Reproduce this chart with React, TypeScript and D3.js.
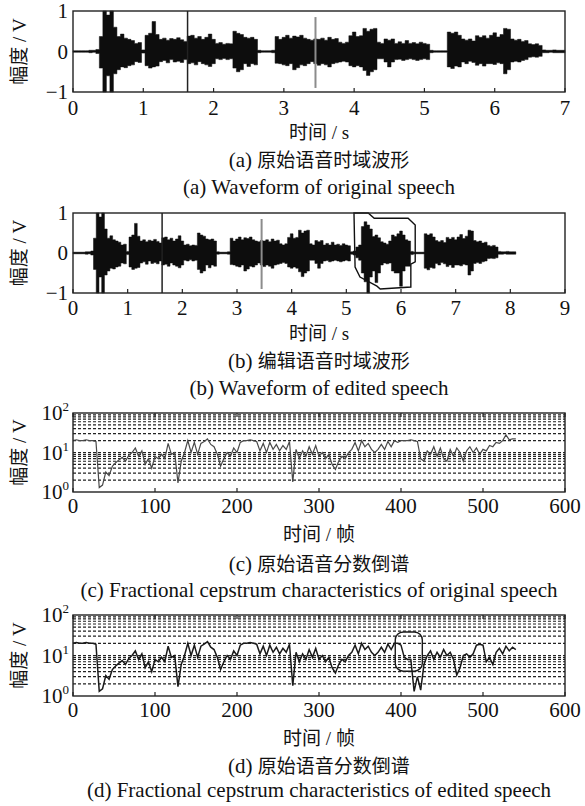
import React from 'react';
import * as d3 from 'd3';

// ---------------- data ----------------
// waveform envelope of the original speech, sampled every WAVE_STEP seconds (0 .. 7 s)
const WAVE_STEP = 0.05;
const origUpper = [
  0.02, 0.02, 0.02, 0.02, 0.02, 0.03, 0.03, 0.05,
  0.37, 1, 0.9, 1, 0.6, 0.37, 0.43, 0.33, 0.3, 0.27, 0.2, 0.22,
  0.04, 0.4, 0.45, 0.74, 0.42, 0.3, 0.33, 0.28, 0.32, 0.3, 0.34, 0.29, 0.25,
  0.38, 0.4, 0.33, 0.37, 0.3, 0.35, 0.43, 0.3, 0.2, 0.22, 0.18, 0.2, 0.19,
  0.5, 0.45, 0.42, 0.35, 0.33, 0.35, 0.3,
  0.03, 0.02, 0.02, 0.02, 0.03,
  0.37, 0.3, 0.35, 0.4, 0.33, 0.38, 0.36, 0.4, 0.33, 0.3, 0.28,
  0.31, 0.3, 0.33, 0.28, 0.35, 0.3, 0.32, 0.23, 0.2, 0.23,
  0.39, 0.48, 0.37, 0.39, 0.57, 0.5, 0.55, 0.57, 0.23, 0.2,
  0.31, 0.28, 0.31, 0.2, 0.24, 0.2, 0.27, 0.2, 0.22, 0.19, 0.23, 0.2, 0.18,
  0.03, 0.02, 0.02, 0.02, 0.02,
  0.48, 0.45, 0.48, 0.4, 0.31, 0.28, 0.31, 0.26, 0.39, 0.35, 0.39, 0.33, 0.4, 0.46, 0.36, 0.42, 0.57, 0.55,
  0.31, 0.28, 0.3, 0.25, 0.27, 0.19, 0.17, 0.19, 0.15,
  0.04, 0.03, 0.03, 0.04, 0.03, 0.03, 0.03,
];
const origLower = [
  0.02, 0.02, 0.02, 0.02, 0.02, 0.03, 0.02, 0.05,
  0.41, 1, 0.6, 1, 0.55, 0.45, 0.38, 0.4, 0.35, 0.33, 0.25, 0.27,
  0.04, 0.35, 0.41, 0.38, 0.36, 0.25, 0.22, 0.28, 0.2, 0.26, 0.24, 0.27, 0.2,
  0.3, 0.28, 0.33, 0.25, 0.3, 0.33, 0.37, 0.3, 0.18, 0.2, 0.17, 0.2, 0.18,
  0.41, 0.5, 0.45, 0.3, 0.37, 0.3, 0.33,
  0.03, 0.02, 0.02, 0.02, 0.03,
  0.29, 0.3, 0.33, 0.35, 0.3, 0.45, 0.4, 0.33, 0.35, 0.3, 0.25,
  0.3, 0.34, 0.3, 0.33, 0.38, 0.3, 0.28, 0.26, 0.24, 0.26,
  0.35, 0.38, 0.35, 0.38, 0.47, 0.59, 0.5, 0.45, 0.18, 0.18,
  0.26, 0.38, 0.26, 0.2, 0.19, 0.22, 0.2, 0.18, 0.2, 0.22, 0.2, 0.18, 0.2,
  0.03, 0.02, 0.02, 0.02, 0.02,
  0.38, 0.42, 0.36, 0.38, 0.26, 0.3, 0.24, 0.27, 0.34, 0.3, 0.36, 0.3, 0.3, 0.32, 0.28, 0.3, 0.55, 0.45,
  0.26, 0.24, 0.26, 0.22, 0.2, 0.14, 0.13, 0.14, 0.12,
  0.03, 0.03, 0.02, 0.03, 0.03, 0.03, 0.03,
];
// segment inserted into the edited speech, starting at insertStart seconds
const insertStart = 5.15;
const insertUpper = [0.05, 0.15, 0.2, 0.66, 0.78, 0.7, 0.6, 0.41, 0.45, 0.38, 0.28, 0.25, 0.22, 0.3, 0.45, 0.41, 0.48, 0.55, 0.45, 0.33, 0.3, 0.04];
const insertLower = [0.05, 0.12, 0.18, 0.5, 0.72, 1, 0.6, 0.45, 0.74, 0.5, 0.3, 0.25, 0.27, 0.25, 0.45, 0.5, 0.5, 0.83, 0.45, 0.33, 0.33, 0.04];
// isolated vertical clicks in the waveform
const spikeTimes = [1.63, 3.45];
const spikeHigh = [1, 0.85];
const spikeLow = [-1, -0.9];
const spikeKind = ['dark', 'gray'];
// hand-drawn outline around the edited region (time s, amplitude V)
const editPolygon: [number, number][] = [
  [5.14, 1.0], [5.4, 1.0], [5.51, 0.87], [6.13, 0.87], [6.26, 0.7], [6.26, -0.22], [6.18, -0.28],
  [6.18, -0.85], [5.62, -0.9], [5.56, -0.83], [5.25, -0.6], [5.16, -0.35],
];
const timeTicksA = [0, 1, 2, 3, 4, 5, 6, 7];
const timeTicksB = [0, 1, 2, 3, 4, 5, 6, 7, 8, 9];
const ampTicks = [1, 0, -1];
const ampTickLabels = ['1', '0', '\u22121'];

// fractional cepstrum, one value every FRAME_STEP frames
const FRAME_STEP = 4;
const cepHead = [
  20, 21, 20, 20, 21, 20, 20, 19, 1.3, 1.5, 3.2, 2.6, 4.5, 5.5, 6.5, 7.5, 6, 8.5, 10, 13,
  8, 11, 5, 7, 4, 8, 7, 9, 7, 17, 9, 10, 1.7, 6, 10, 20, 10, 18, 9, 17,
  19, 22, 16, 14, 9, 4.5, 7, 10, 8, 13, 10, 18, 20, 20, 21, 20, 19, 11, 17, 10,
  18, 12, 16, 11, 15, 12, 19, 1.8, 12, 7, 11, 8, 14, 9, 15, 8, 10, 7, 9, 5,
  3.7, 6, 8, 7, 10, 12, 18, 11, 20, 14, 17, 12, 10, 12, 16, 12, 19, 14, 20,
];
const cepTailOrig = [
  18, 20, 20, 20, 21, 20, 19, 7, 6, 11, 9, 14, 8, 13, 7, 6, 12, 8, 13, 10,
  6, 11, 14, 10, 13, 9, 12, 11, 15, 14, 18, 17, 20, 28, 21, 22, 22,
];
const cepTailEdit = [
  20, 18, 9, 8, 8, 1.3, 3, 1.4, 6, 10, 13, 8, 12, 9, 14, 10, 12, 8, 3.3, 5,
  10, 11, 9, 11, 18, 19, 18, 7, 9, 6, 12, 15, 11, 17, 13, 16, 14,
];
const frameTicks = [0, 100, 200, 300, 400, 500, 600];
const logTicks = [1, 10, 100];
const logTickExp = ['0', '1', '2'];
// rounded marker around the edited frames in (d): frames and amplitude range
const editMarkFrames = [393, 426];
const editMarkValues = [4.1, 38];

const yLabel = '幅度 / V';
const xLabelTime = '时间 / s';
const xLabelFrame = '时间 / 帧';
const captionTags = ['(a) ', '(b) ', '(c) ', '(d) '];
const captionsZh = ['原始语音时域波形', '编辑语音时域波形', '原始语音分数倒谱', '原始语音分数倒谱'];
const captionsEn = [
  '(a) Waveform of original speech',
  '(b) Waveform of edited speech',
  '(c) Fractional cepstrum characteristics of original speech',
  '(d) Fractional cepstrum characteristics of edited speech',
];

// ---------------- layout ----------------
const W = 585;
const H = 806;
const PX0 = 73;
const PX1 = 565;
const FONT = '"Liberation Serif", "Times New Roman", "Noto Sans CJK SC", serif';
const FS = 21;
const FS_ZH = 19;

type WP = { t: number; u: number; l: number };

const origWave: WP[] = origUpper.map((u, i) => ({ t: i * WAVE_STEP, u, l: origLower[i] }));
const splitIdx = Math.round(insertStart / WAVE_STEP);
const insertLen = insertUpper.length * WAVE_STEP;
const editWave: WP[] = [
  ...origWave.slice(0, splitIdx),
  ...insertUpper.map((u, j) => ({ t: insertStart + j * WAVE_STEP, u, l: insertLower[j] })),
  ...origWave.slice(splitIdx).map((p) => ({ ...p, t: p.t + insertLen })),
];

const cepOrig = [...cepHead, ...cepTailOrig].map((v, i) => ({ f: i * FRAME_STEP, v }));
const cepEdit = [...cepHead, ...cepTailEdit].map((v, i) => ({ f: i * FRAME_STEP, v }));

type Layout = { top: number; bottom: number; tickBase: number; xlabBase: number; zhBase: number; enBase: number };

const layouts: Layout[] = [
  { top: 11, bottom: 92, tickBase: 115, xlabBase: 139, zhBase: 167, enBase: 194 },
  { top: 213, bottom: 293, tickBase: 315, xlabBase: 340, zhBase: 368, enBase: 395 },
  { top: 413, bottom: 492, tickBase: 513, xlabBase: 541, zhBase: 571, enBase: 597 },
  { top: 615, bottom: 696, tickBase: 717, xlabBase: 745, zhBase: 773, enBase: 797 },
];

function Texts({ L, idx, xlab }: { L: Layout; idx: number; xlab: string }) {
  const cx = (PX0 + PX1) / 2;
  return (
    <g fontFamily={FONT} fontSize={FS} fill="#111">
      <text transform={`translate(19,${(L.top + L.bottom) / 2}) rotate(-90)`} textAnchor="middle" dominantBaseline="central" fontSize={FS_ZH}>
        {yLabel}
      </text>
      <text x={cx} y={L.xlabBase} textAnchor="middle" fontSize={FS_ZH}>{xlab}</text>
      <text x={cx} y={L.zhBase} textAnchor="middle">
        <tspan>{captionTags[idx]}</tspan>
        <tspan fontSize={FS_ZH}>{captionsZh[idx]}</tspan>
      </text>
      <text x={cx} y={L.enBase} textAnchor="middle">{captionsEn[idx]}</text>
    </g>
  );
}

function WavePanel({ idx, data, xMax, ticks, polygon }: { idx: number; data: WP[]; xMax: number; ticks: number[]; polygon?: [number, number][] }) {
  const L = layouts[idx];
  const x = d3.scaleLinear().domain([0, xMax]).range([PX0, PX1]);
  const y = d3.scaleLinear().domain([-1, 1]).range([L.bottom, L.top]);
  const area = d3.area<WP>().x((d) => x(d.t)).y0((d) => y(-d.l)).y1((d) => y(d.u)).curve(d3.curveStep);
  const tEnd = data[data.length - 1].t;
  const polyLine = polygon ? d3.line<[number, number]>().x((d) => x(d[0])).y((d) => y(d[1]))(polygon) + 'Z' : null;
  return (
    <g>
      <line x1={x(0)} x2={x(tEnd)} y1={y(0)} y2={y(0)} stroke="#222" strokeWidth={1.2} />
      <path d={area(data) || ''} fill="#0d0d0d" stroke="#0d0d0d" strokeWidth={0.5} />
      {spikeTimes.map((t, i) => (
        <line key={i} x1={x(t)} x2={x(t)} y1={y(spikeHigh[i])} y2={y(spikeLow[i])}
          stroke={spikeKind[i] === 'dark' ? '#222' : '#8c8c8c'} strokeWidth={spikeKind[i] === 'dark' ? 1.5 : 2} />
      ))}
      {polyLine && <path d={polyLine} fill="none" stroke="#111" strokeWidth={1.4} />}
      <rect x={PX0} y={L.top} width={PX1 - PX0} height={L.bottom - L.top} fill="none" stroke="#222" strokeWidth={1.4} />
      {ticks.map((t) => (
        <line key={t} x1={x(t)} x2={x(t)} y1={L.bottom} y2={L.bottom - 4} stroke="#222" strokeWidth={1.2} />
      ))}
      <g fontFamily={FONT} fontSize={FS} fill="#111">
        {ticks.map((t) => (
          <text key={t} x={x(t)} y={L.tickBase} textAnchor="middle">{t}</text>
        ))}
        {ampTicks.map((v, i) => (
          <text key={v} x={68} y={y(v)} textAnchor="end" dominantBaseline="central">{ampTickLabels[i]}</text>
        ))}
      </g>
      <Texts L={L} idx={idx} xlab={xLabelTime} />
    </g>
  );
}

function CepPanel({ idx, data, mark }: { idx: number; data: { f: number; v: number }[]; mark?: boolean }) {
  const L = layouts[idx];
  const x = d3.scaleLinear().domain([0, 600]).range([PX0, PX1]);
  const y = d3.scaleLog().domain([1, 100]).range([L.bottom, L.top]);
  const grid = y.ticks().filter((v) => v > 1 && v < 100);
  const line = d3.line<{ f: number; v: number }>().x((d) => x(d.f)).y((d) => y(d.v));
  return (
    <g>
      {grid.map((g) => (
        <line key={g} x1={PX0} x2={PX1} y1={y(g)} y2={y(g)} stroke="#222" strokeWidth={1.2} strokeDasharray="3,2" />
      ))}
      <path d={line(data) || ''} fill="none" stroke={mark ? '#1a1a1a' : '#4a4a4a'} strokeWidth={mark ? 1.5 : 1.2} />
      {mark && (
        <rect x={x(editMarkFrames[0])} y={y(editMarkValues[1])} width={x(editMarkFrames[1]) - x(editMarkFrames[0])}
          height={y(editMarkValues[0]) - y(editMarkValues[1])} rx={8} fill="none" stroke="#1a1a1a" strokeWidth={1.4} />
      )}
      <rect x={PX0} y={L.top} width={PX1 - PX0} height={L.bottom - L.top} fill="none" stroke="#222" strokeWidth={1.4} />
      {frameTicks.map((t) => (
        <g key={t}>
          <line x1={x(t)} x2={x(t)} y1={L.bottom} y2={L.bottom - 4} stroke="#222" strokeWidth={1.2} />
          <line x1={x(t)} x2={x(t)} y1={L.top} y2={L.top + 4} stroke="#222" strokeWidth={1.2} />
        </g>
      ))}
      <g fontFamily={FONT} fontSize={FS} fill="#111">
        {frameTicks.map((t) => (
          <text key={t} x={x(t)} y={L.tickBase} textAnchor="middle">{t}</text>
        ))}
        {logTicks.map((v, i) => (
          <text key={v} x={69} y={y(v) + 7} textAnchor="end">
            10<tspan dy={-9} fontSize={13}>{logTickExp[i]}</tspan>
          </text>
        ))}
      </g>
      <Texts L={L} idx={idx} xlab={xLabelFrame} />
    </g>
  );
}

export default function App() {
  return (
    <svg width={W} height={H} viewBox={`0 0 ${W} ${H}`} style={{ position: 'absolute', left: 0, top: 0, background: '#fff' }}>
      <rect width={W} height={H} fill="#fff" />
      <WavePanel idx={0} data={origWave} xMax={7} ticks={timeTicksA} />
      <WavePanel idx={1} data={editWave} xMax={9} ticks={timeTicksB} polygon={editPolygon} />
      <CepPanel idx={2} data={cepOrig} />
      <CepPanel idx={3} data={cepEdit} mark />
    </svg>
  );
}
